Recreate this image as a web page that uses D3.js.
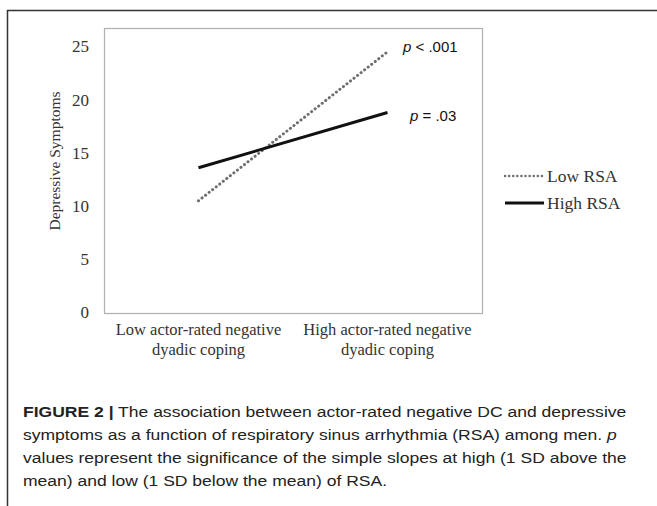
<!DOCTYPE html>
<html><head><meta charset="utf-8">
<script src="https://cdn.jsdelivr.net/npm/d3@7"></script>
<style>body{margin:0;background:#fff}svg{display:block}</style>
</head><body>
<script>
const categories = ["Low actor-rated negative|dyadic coping", "High actor-rated negative|dyadic coping"];
const lowRSA = [10.5, 24.5];
const highRSA = [13.6, 18.8];
const yTicks = [0, 5, 10, 15, 20, 25];
const seriesNames = ["Low RSA", "High RSA"];
const pLabels = ["p < .001", "p = .03"];
const captionLines = [
  ["FIGURE 2 |", " The association between actor-rated negative DC and depressive"],
  ["", "symptoms as a function of respiratory sinus arrhythmia (RSA) among men. ", "p"],
  ["", "values represent the significance of the simple slopes at high (1 SD above the"],
  ["", "mean) and low (1 SD below the mean) of RSA."]
];

const W = 657, H = 506;
const svg = d3.select("body").append("svg").attr("width", W).attr("height", H);

// outer frame
svg.append("path").attr("d", `M7.5,${H} L7.5,10.5 L${W},10.5`).attr("fill","none").attr("stroke","#333").attr("stroke-width",1.5);

const box = {l:104, r:482, t:28, b:313};
const y = d3.scaleLinear().domain([0, 25]).range([312.5, 46.5]);
const x = d3.scaleBand().domain(categories).range([box.l, box.r]);
const xc = i => x(categories[i]) + x.bandwidth()/2;

// plot box
svg.append("rect").attr("x", box.l+0.5).attr("y", box.t+0.5).attr("width", box.r-box.l).attr("height", box.b-box.t)
  .attr("fill","none").attr("stroke","#b0b0b0").attr("stroke-width",1.2);

const serif = "'Liberation Serif','Times New Roman',serif";
// y axis
const yAxis = d3.axisLeft(y).tickValues(yTicks).tickSize(0).tickPadding(0);
const gy = svg.append("g").attr("transform", `translate(89,0)`).call(yAxis);
gy.select(".domain").remove();
gy.selectAll("text").attr("font-family", serif).attr("font-size", 17).attr("fill","#333");

svg.append("text").attr("transform", "translate(60,161) rotate(-90)").attr("text-anchor","middle")
  .attr("font-family", serif).attr("font-size", 15.5).attr("fill","#333").text("Depressive Symptoms");

// x axis labels (each line its own text element)
const gx = svg.append("g");
categories.forEach((c, i) => {
  c.split("|").forEach((p, j) => {
    gx.append("text").attr("text-anchor","middle").attr("font-family", serif).attr("font-size", 16.5).attr("fill","#333")
      .attr("x", xc(i)).attr("y", 335 + j*19.5).text(p);
  });
});

// lines
const line = d3.line().x((d,i) => xc(i)).y(d => y(d));
svg.append("path").datum(lowRSA).attr("d", line).attr("fill","none").attr("stroke","#6e6e6e")
  .attr("stroke-width",3).attr("stroke-dasharray","0.1,4.4").attr("stroke-linecap","round");
svg.append("path").datum(highRSA).attr("d", line).attr("fill","none").attr("stroke","#111")
  .attr("stroke-width",3);

// p labels
const sans = "'Liberation Sans',Arial,sans-serif";
const pl = [[403, 52], [410, 121]];
pLabels.forEach((p, i) => {
  const t = svg.append("text").attr("x", pl[i][0]).attr("y", pl[i][1]).attr("font-family", sans).attr("font-size", 15).attr("fill","#111");
  t.append("tspan").attr("font-style","italic").text("p");
  t.append("tspan").text(p.slice(1));
});

// legend
const lg = [{y:176, dash:true}, {y:203, dash:false}];
seriesNames.forEach((s, i) => {
  svg.append("line").attr("x1", 505).attr("x2", 544).attr("y1", lg[i].y).attr("y2", lg[i].y)
    .attr("stroke", lg[i].dash ? "#6e6e6e" : "#111").attr("stroke-width", lg[i].dash ? 2.5 : 3)
    .attr("stroke-dasharray", lg[i].dash ? "0.1,4" : null).attr("stroke-linecap", lg[i].dash ? "round" : "butt");
  svg.append("text").attr("x", 547).attr("y", lg[i].y + 5.5).attr("font-family", serif).attr("font-size", 17.5).attr("fill","#333").text(s);
});

// caption (horizontally stretched to match the reference)
const cap = svg.append("g");
const capTexts = captionLines.map((ln, i) => {
  const t = cap.append("text").attr("x", 0).attr("y", 417 + i*23).attr("font-family", sans).attr("font-size", 15).attr("fill","#222");
  if (ln[0]) t.append("tspan").attr("font-weight","bold").text(ln[0]);
  t.append("tspan").text(ln[1]);
  if (ln[2]) t.append("tspan").attr("font-style","italic").text(ln[2]);
  return t;
});
const w1 = capTexts[0].node().getComputedTextLength();
const sx = 604 / w1;
cap.attr("transform", `translate(23,0) scale(${sx},1)`);
</script>
</body></html>
